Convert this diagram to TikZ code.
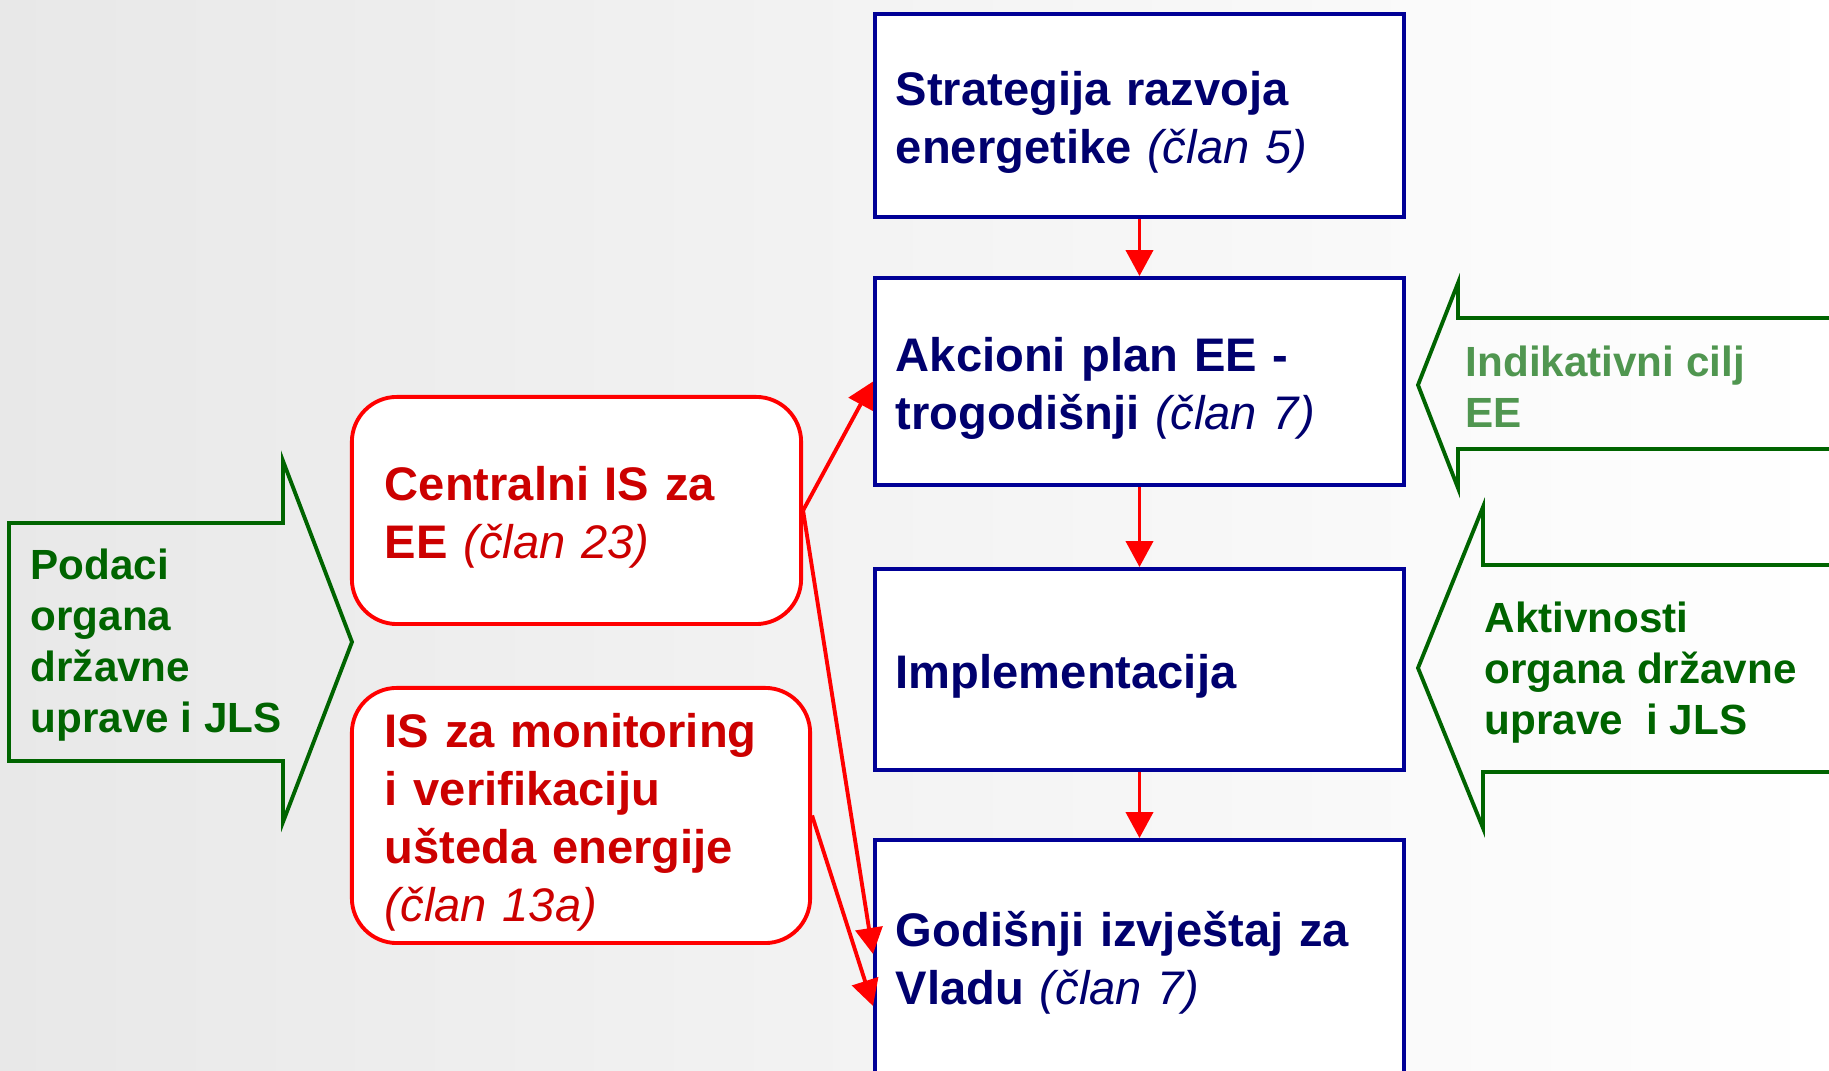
\documentclass[tikz,border=0pt]{standalone}
\usepackage{fontspec}
\setmainfont{Liberation Sans}
\usetikzlibrary{arrows.meta,calc}
\definecolor{navy}{RGB}{0,0,110}
\definecolor{boxblue}{RGB}{0,0,150}
\definecolor{darkred}{RGB}{204,0,0}
\definecolor{dgreen}{RGB}{0,100,0}
\definecolor{lgreen}{RGB}{80,150,80}
\newcommand{\clan}[1]{{\mdseries\itshape (član #1)}}
\tikzset{
  bluebox/.style={draw=boxblue, line width=1.05pt, fill=white, minimum width=5.29cm,
    text width=4.87cm, inner xsep=0.21cm, align=left, text=navy,
    font=\fontsize{13.4}{16.5}\selectfont\bfseries,
    execute at begin node={\rule{0pt}{13.4pt}}},
  redbox/.style={draw=red, line width=1.1pt, fill=white, rounded corners=0.45cm,
    inner xsep=0.33cm, align=left, text=darkred,
    font=\fontsize{13.4}{16.5}\selectfont\bfseries,
    execute at begin node={\rule{0pt}{13.4pt}}},
  redarrow/.style={red, line width=1.1pt, -{Triangle[length=0.26cm,width=0.27cm]}},
  greenarrow/.style={draw=dgreen, line width=1.1pt},
  greentext/.style={text=dgreen, align=left, inner sep=0pt, anchor=west,
    font=\fontsize{12}{14.5}\selectfont\bfseries}
}
\begin{document}
\begin{tikzpicture}[x=0.01cm, y=-0.01cm]
\useasboundingbox (0,0) rectangle (1829,1071);
\shade[left color=gray!18, right color=white] (0,0) rectangle (1829,1071);
% main chain
\node[bluebox, minimum height=2.03cm] (strat) at (1139.5,115.5) {Strategija razvoja\\energetike \clan{5}};
\node[bluebox, minimum height=2.07cm] (akc) at (1139.5,381.5) {Akcioni plan EE -\\trogodišnji \clan{7}};
\node[bluebox, minimum height=2.01cm] (impl) at (1139.5,669.5) {Implementacija};
\node[bluebox, minimum height=2.34cm] (god) at (1139.5,957) {Godišnji izvještaj za\\Vladu \clan{7}};
% information systems
\node[redbox, minimum width=4.49cm, text width=3.83cm, minimum height=2.27cm] (cis) at (576.5,510.5) {Centralni IS za\\EE \clan{23}};
\node[redbox, minimum width=4.58cm, text width=3.92cm, minimum height=2.55cm] (mv) at (581,815.5) {IS za monitoring\\i verifikaciju\\ušteda energije\\\clan{13a}};
\draw[redarrow] (strat) -- (akc);
\draw[redarrow] (akc) -- (impl);
\draw[redarrow] (impl) -- (god);
\draw[redarrow] (cis.east) -- (akc.west);
\draw[redarrow] (cis.east) -- ($(god.west)+(0,-3)$);
\draw[redarrow] (mv.east) -- ($(god.west)+(0,49)$);
% inputs
\draw[greenarrow] (9,523) -- (283,523) -- (283,461) -- (352,642) -- (283,822) -- (283,761) -- (9,761) -- cycle;
\node[greentext] (pod) at (30,645) {Podaci\\organa\\državne\\uprave i JLS};
\draw[greenarrow] (1840,318) -- (1458,318) -- (1458,283) -- (1418,385) -- (1458,488) -- (1458,449) -- (1840,449);
\node[greentext, text=lgreen] (ind) at (1465,387) {Indikativni cilj\\EE};
\draw[greenarrow] (1840,565) -- (1483,565) -- (1483,507) -- (1418,668) -- (1483,828) -- (1483,772) -- (1840,772);
\node[greentext] (akt) at (1484,673) {Aktivnosti\\organa državne\\uprave\ \ i JLS};
\end{tikzpicture}
\end{document}
